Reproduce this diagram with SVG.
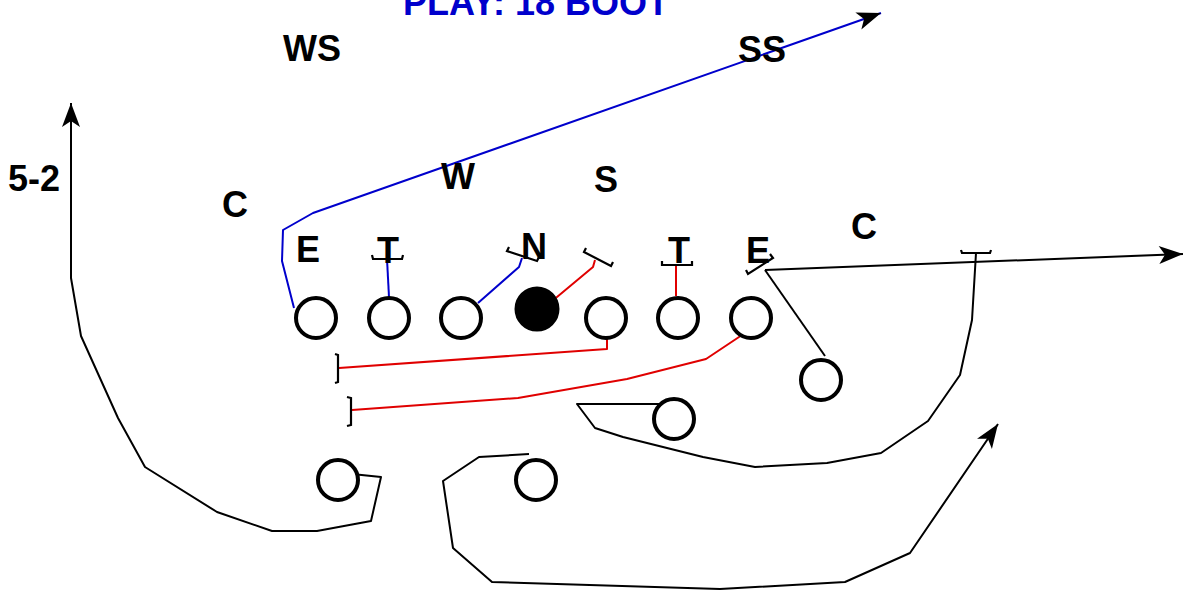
<svg xmlns="http://www.w3.org/2000/svg" width="1192" height="595" viewBox="0 0 1192 595">
<style>
text{font-family:"Liberation Sans",Arial,sans-serif;font-weight:bold;font-size:36px;fill:#000;text-anchor:middle}
.title{fill:#0000cc;text-anchor:start}
.p{fill:#fff;stroke:#000;stroke-width:4}
.ball{fill:#000;stroke:#000;stroke-width:2}
.rt{fill:none;stroke-width:2;stroke-linejoin:round}
.k{stroke:#000}
.b{stroke:#0000cc}
.r{stroke:#e00000}
.blk{fill:none;stroke:#000;stroke-width:2.2}
</style>
<defs>
<marker id="ah" viewBox="-26 -11 28 22" refX="0" refY="0" markerWidth="28" markerHeight="22" markerUnits="userSpaceOnUse" orient="auto">
<path d="M0,0 L-24,-9 L-18,0 L-24,9 Z" fill="#000"/>
</marker>
</defs>
<rect width="1192" height="595" fill="#fff"/>
<text class="title" x="403" y="15">PLAY: 18 BOOT</text>
<g id="connectors">
<path class="rt b" d="M294,308 L282,261 L283,230 L313,213 L881,13" marker-end="url(#ah)"/>
<path class="rt b" d="M389,297 L387,259"/>
<path class="rt b" d="M478,303 L519,267 L522,258"/>
<path class="rt r" d="M551,302 L593,267 L595,260"/>
<path class="rt r" d="M676,296 L676,266"/>
<path class="rt r" d="M607,332 L607,349 L339,368"/>
<path class="rt r" d="M742,335 L706,359 L627,379 L518,398 L352,410"/>
<path class="rt k" d="M825,356 L765,270"/>
<path class="rt k" d="M765,270 L1183,254" marker-end="url(#ah)"/>
<path class="rt k" d="M976,253 L972,320 L960,375 L928,421 L881,453 L827,463 L755,467 L703,457 L623,437 L595,428 L577,404 L663,404"/>
<path class="rt k" d="M529,454 L479,457 L443,481 L453,548 L492,582 L720,589 L845,582 L910,553 L998,424" marker-end="url(#ah)"/>
<path class="rt k" d="M352,474 L381,477 L371,521 L317,531 L272,531 L217,512 L145,467 L118,418 L81,336 L71,278 L71,103" marker-end="url(#ah)"/>
<path class="blk" d="M372,255 L373,259 L402,259 L403,255"/>
<path class="blk" d="M509,247 L507,251 L537,261 L539,257"/>
<path class="blk" d="M586,248 L584,252 L611,266 L613,262"/>
<path class="blk" d="M662,261 L662,265 L692,265 L692,261"/>
<path class="blk" d="M746,270 L748,274 L773,258 L770,254"/>
<path class="blk" d="M961,250 L962,253 L990,253 L991,250"/>
<path class="blk" d="M335,354 L338,355 L338,382 L335,383"/>
<path class="blk" d="M347,397 L351,398 L351,425 L347,426"/>
</g>
<g id="off-le"><circle class="p" cx="316" cy="318" r="20"/></g>
<g id="off-lg"><circle class="p" cx="389" cy="318" r="20"/></g>
<g id="off-lt"><circle class="p" cx="461" cy="318" r="20"/></g>
<g id="off-c"><circle class="ball" cx="537" cy="309" r="21.5"/></g>
<g id="off-rg"><circle class="p" cx="606" cy="318" r="20"/></g>
<g id="off-rt"><circle class="p" cx="678" cy="318" r="20"/></g>
<g id="off-te"><circle class="p" cx="751" cy="318" r="20"/></g>
<g id="off-wing"><circle class="p" cx="821" cy="380" r="20"/></g>
<g id="off-qb"><circle class="p" cx="674" cy="419" r="20"/></g>
<g id="off-hb1"><circle class="p" cx="338" cy="480" r="20"/></g>
<g id="off-hb2"><circle class="p" cx="536" cy="480" r="20"/></g>
<g id="def-ws"><text x="312" y="61">WS</text></g>
<g id="def-ss"><text x="762" y="62">SS</text></g>
<g id="def-52"><text x="34" y="191">5-2</text></g>
<g id="def-cl"><text x="235" y="217">C</text></g>
<g id="def-w"><text x="458" y="189">W</text></g>
<g id="def-s"><text x="606" y="192">S</text></g>
<g id="def-el"><text x="308" y="262">E</text></g>
<g id="def-tl"><text x="388" y="263">T</text></g>
<g id="def-n"><text x="534" y="259">N</text></g>
<g id="def-tr"><text x="679" y="263">T</text></g>
<g id="def-er"><text x="758" y="263">E</text></g>
<g id="def-cr"><text x="864" y="239">C</text></g>
</svg>
